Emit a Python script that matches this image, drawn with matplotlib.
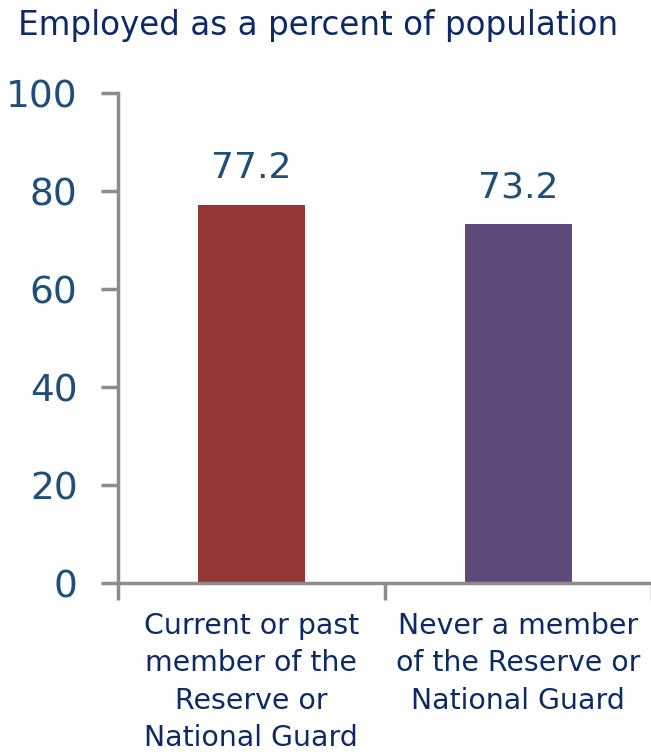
import numpy as np
import matplotlib.pyplot as plt

categories = ['Current or past\nmember of the\nReserve or\nNational Guard',
              'Never a member\nof the Reserve or\nNational Guard']
values = [77.2, 73.2]
bar_colors = ['#943634', '#604A7B']
y_ticks = [0, 20, 40, 60, 80, 100]

navy = '#0D2A66'
blue = '#1F4E79'
gray = '#8C8C8C'

fig = plt.figure(figsize=(6.51, 7.52), dpi=100)
ax = fig.add_axes([0.181, 0.2247, 0.82, 0.6516])

x = np.arange(len(values))
ax.bar(x, values, width=0.4, color=bar_colors)
for xi, v in zip(x, values):
    ax.text(xi, v + 4, f'{v:.1f}', ha='center', va='bottom',
            fontsize=26, color=blue)

ax.set_xlim(-0.5, len(values) - 0.5)
ax.set_ylim(0, 100)
ax.set_yticks(y_ticks)
ax.tick_params(axis='y', labelsize=27, labelcolor=blue, color=gray,
               width=2.5, length=12, pad=17)

# category separators as x ticks, labels as minor ticks
ax.set_xticks([-0.5, 0.5, 1.5])
ax.set_xticklabels([])
ax.tick_params(axis='x', which='major', color=gray, width=2.5, length=12)
ax.set_xticks(x, minor=True)
ax.set_xticklabels(categories, minor=True, fontsize=20.4, color=navy,
                   linespacing=1.42)
ax.tick_params(axis='x', which='minor', length=0, pad=21)

for s in ['top', 'right']:
    ax.spines[s].set_visible(False)
for s in ['left', 'bottom']:
    ax.spines[s].set_color(gray)
    ax.spines[s].set_linewidth(2.5)

fig.text(0.028, 0.966, 'Employed as a percent of population', fontsize=23.5,
         color=navy, ha='left', va='center')

fig.savefig('out.png', dpi=100)
